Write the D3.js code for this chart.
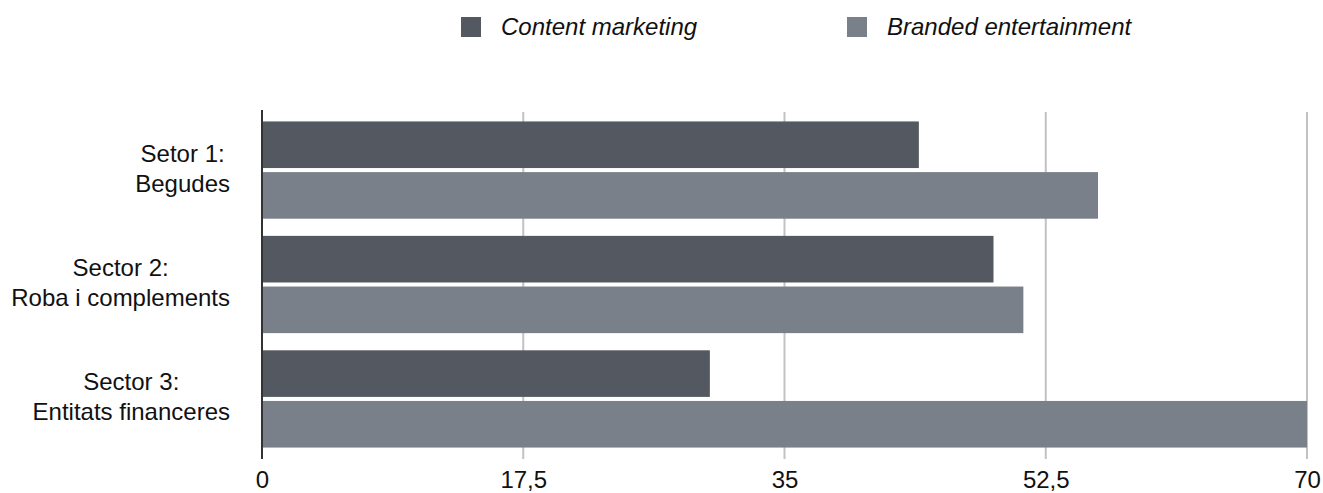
<!DOCTYPE html>
<html>
<head>
<meta charset="utf-8">
<script src="https://cdn.jsdelivr.net/npm/d3@7"></script>
<style>
  body { margin: 0; background: #fff; }
  svg { display: block; font-family: "Liberation Sans", Helvetica, Arial, sans-serif; }
</style>
</head>
<body>
<div id="chart"></div>
<script>
// data
const categories = [
  ["Setor 1:", "Begudes"],
  ["Sector 2:", "Roba i complements"],
  ["Sector 3:", "Entitats financeres"]
];
const seriesNames = ["Content marketing", "Branded entertainment"];
const contentMarketing = [44, 49, 30];
const brandedEntertainment = [56, 51, 70];
const tickValues = [0, 17.5, 35, 52.5, 70];

const colors = ["#545860", "#7a808a"];
const width = 1323, height = 493;
const fontSize = 24;

const svg = d3.select("#chart").append("svg")
    .attr("width", width)
    .attr("height", height);

const catIds = categories.map((d, i) => i);

// scales
const x = d3.scaleLinear().domain([0, 70]).range([262, 1307]);
const y0 = d3.scaleBand().domain(catIds).range([110, 459])
    .paddingInner(0.15).paddingOuter(0.1);
const y1 = d3.scaleBand().domain(seriesNames).range([0, y0.bandwidth()])
    .paddingInner(0.08);

const rows = catIds.map(i => ({
  id: i,
  values: [
    {series: seriesNames[0], value: contentMarketing[i]},
    {series: seriesNames[1], value: brandedEntertainment[i]}
  ]
}));

// gridlines
svg.append("g").selectAll("line")
    .data(tickValues.filter(d => d > 0))
    .join("line")
    .attr("x1", d => x(d)).attr("x2", d => x(d))
    .attr("y1", 112).attr("y2", 459)
    .attr("stroke", "#c2c2c2")
    .attr("stroke-width", 2);

// bars
svg.append("g").selectAll("g")
    .data(rows)
    .join("g")
    .attr("transform", d => `translate(0,${y0(d.id)})`)
  .selectAll("rect")
    .data(d => d.values)
    .join("rect")
    .attr("x", x(0))
    .attr("y", d => y1(d.series))
    .attr("width", d => x(d.value) - x(0))
    .attr("height", y1.bandwidth())
    .attr("fill", (d, i) => colors[i]);

// baseline axis
svg.append("line")
    .attr("x1", x(0)).attr("x2", x(0))
    .attr("y1", 110).attr("y2", 459)
    .attr("stroke", "#333")
    .attr("stroke-width", 2);

// x tick labels
const xAxis = d3.axisBottom(x)
    .tickValues(tickValues)
    .tickSize(0)
    .tickPadding(0)
    .tickFormat(d => String(d).replace(".", ","));
const gx = svg.append("g")
    .attr("transform", "translate(0,488)")
    .call(xAxis);
gx.select(".domain").remove();
gx.selectAll("text")
    .attr("dy", null)
    .attr("y", 0)
    .attr("fill", "#111")
    .style("font-size", fontSize + "px")
    .style("font-family", "'Liberation Sans', Helvetica, Arial, sans-serif");

// category labels (two lines, centred on each other, block right-aligned)
const labels = svg.append("g").selectAll("g")
    .data(rows)
    .join("g");
labels.each(function(d) {
  const g = d3.select(this);
  const cy = y0(d.id) + y0.bandwidth() / 2;
  const t = g.selectAll("text")
      .data(categories[d.id])
      .join("text")
      .attr("y", (s, j) => j === 0 ? cy - 8.5 : cy + 21.5)
      .attr("text-anchor", "middle")
      .attr("fill", "#111")
      .style("font-size", fontSize + "px")
      .text(s => s);
  let maxW = 0;
  t.each(function() { maxW = Math.max(maxW, this.getComputedTextLength()); });
  t.attr("x", 230 - maxW / 2);
});

// legend
const legendX = [461, 847];
const legend = svg.append("g").selectAll("g")
    .data(seriesNames)
    .join("g")
    .attr("transform", (d, i) => `translate(${legendX[i]},17)`);
legend.append("rect")
    .attr("width", 20).attr("height", 20)
    .attr("fill", (d, i) => colors[i]);
legend.append("text")
    .attr("x", 40).attr("y", 18)
    .attr("fill", "#111")
    .style("font-size", fontSize + "px")
    .style("font-style", "italic")
    .text(d => d);
</script>
</body>
</html>
